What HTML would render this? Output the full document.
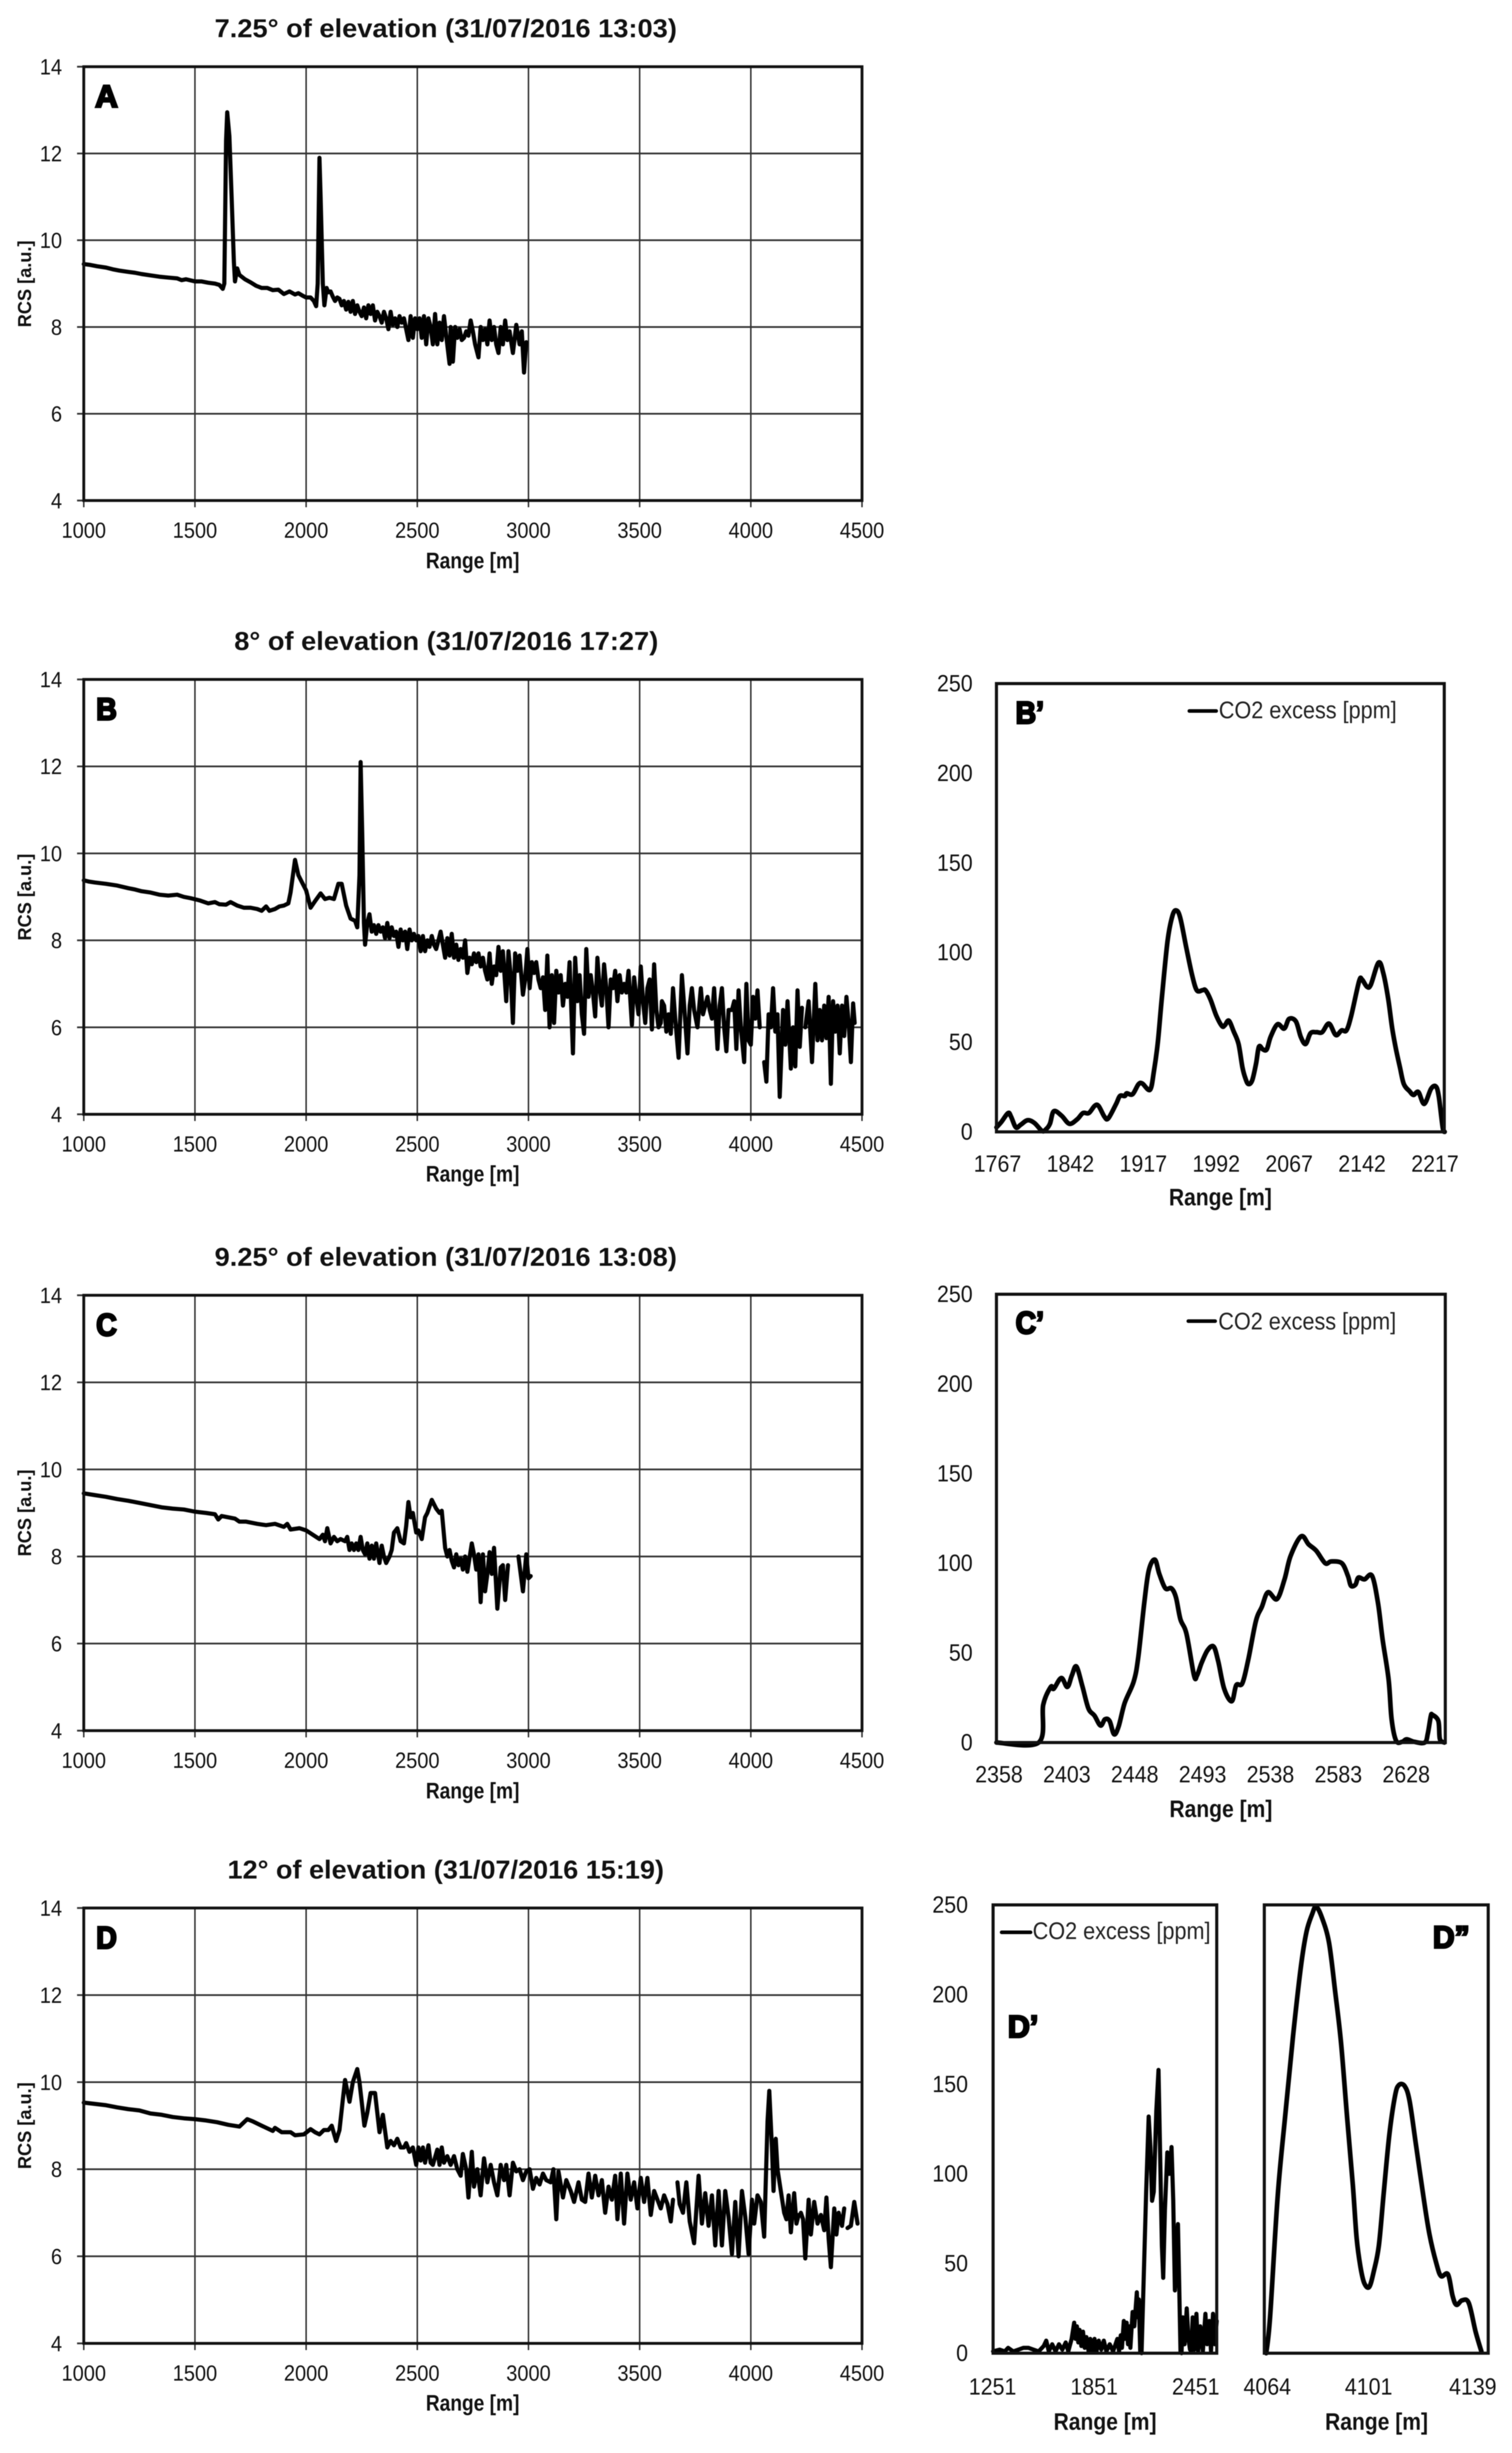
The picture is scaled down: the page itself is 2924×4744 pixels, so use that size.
<!DOCTYPE html>
<html lang="en">
<head>
<meta charset="utf-8">
<title>RCS and CO2 excess versus range</title>
<style>
html,body{margin:0;padding:0;background:#fff;}
svg{display:block;filter:blur(0.7px);}
text{font-family:"Liberation Sans",sans-serif;fill:#111;}
.title{font-size:50px;font-weight:bold;text-anchor:middle;}
.xtitle{font-size:44px;font-weight:bold;text-anchor:middle;}
.xtitle2{font-size:46px;font-weight:bold;text-anchor:middle;}
.ytitle{font-size:36px;font-weight:bold;text-anchor:middle;}
.letter{font-size:60px;font-weight:bold;fill:#000;stroke:#000;stroke-width:4px;}
.legend{font-size:46px;fill:#222;}
</style>
</head>
<body>
<svg id="figure" xmlns="http://www.w3.org/2000/svg" width="2924" height="4744" viewBox="0 0 2924 4744">
<rect x="0" y="0" width="2924" height="4744" fill="#fff"/>

<text class="title" x="862" y="72" textLength="894" lengthAdjust="spacingAndGlyphs">7.25° of elevation (31/07/2016 13:03)</text>
<text class="title" x="863" y="1257" textLength="820" lengthAdjust="spacingAndGlyphs">8° of elevation (31/07/2016 17:27)</text>
<text class="title" x="862" y="2448" textLength="894" lengthAdjust="spacingAndGlyphs">9.25° of elevation (31/07/2016 13:08)</text>
<text class="title" x="862" y="3633" textLength="844" lengthAdjust="spacingAndGlyphs">12° of elevation (31/07/2016 15:19)</text>

<text class="xtitle" x="914" y="1099" textLength="181" lengthAdjust="spacingAndGlyphs">Range [m]</text>
<text class="xtitle" x="914" y="2285" textLength="181" lengthAdjust="spacingAndGlyphs">Range [m]</text>
<text class="xtitle" x="914" y="3478" textLength="181" lengthAdjust="spacingAndGlyphs">Range [m]</text>
<text class="xtitle" x="914" y="4662" textLength="181" lengthAdjust="spacingAndGlyphs">Range [m]</text>

<text class="ytitle" transform="translate(60 549) rotate(-90)" textLength="168" lengthAdjust="spacingAndGlyphs">RCS [a.u.]</text>
<text class="ytitle" transform="translate(60 1735) rotate(-90)" textLength="168" lengthAdjust="spacingAndGlyphs">RCS [a.u.]</text>
<text class="ytitle" transform="translate(60 2926) rotate(-90)" textLength="168" lengthAdjust="spacingAndGlyphs">RCS [a.u.]</text>
<text class="ytitle" transform="translate(60 4111) rotate(-90)" textLength="168" lengthAdjust="spacingAndGlyphs">RCS [a.u.]</text>

<text class="xtitle2" x="2360" y="2331" textLength="199" lengthAdjust="spacingAndGlyphs">Range [m]</text>
<text class="xtitle2" x="2361" y="3514" textLength="199" lengthAdjust="spacingAndGlyphs">Range [m]</text>
<text class="xtitle2" x="2137" y="4699" textLength="199" lengthAdjust="spacingAndGlyphs">Range [m]</text>
<text class="xtitle2" x="2662" y="4699" textLength="199" lengthAdjust="spacingAndGlyphs">Range [m]</text>

<g id="plots"></g>

<text class="letter" x="184" y="207" textLength="44" lengthAdjust="spacingAndGlyphs">A</text>
<text class="letter" x="186" y="1392" textLength="40" lengthAdjust="spacingAndGlyphs">B</text>
<text class="letter" x="186" y="2583" textLength="40" lengthAdjust="spacingAndGlyphs">C</text>
<text class="letter" x="186" y="3768" textLength="40" lengthAdjust="spacingAndGlyphs">D</text>
<text class="letter" x="1964" y="1399" textLength="55" lengthAdjust="spacingAndGlyphs">B’</text>
<text class="letter" x="1964" y="2579" textLength="55" lengthAdjust="spacingAndGlyphs">C’</text>
<text class="letter" x="1949" y="3940" textLength="59" lengthAdjust="spacingAndGlyphs">D’</text>
<text class="letter" x="2771" y="3767" textLength="71" lengthAdjust="spacingAndGlyphs">D”</text>

<g>
<line x1="2300" y1="1375" x2="2352" y2="1375" stroke="#000" stroke-width="7" stroke-linecap="round"/>
<text class="legend" x="2357" y="1389" textLength="344" lengthAdjust="spacingAndGlyphs">CO2 excess [ppm]</text>
</g>
<g>
<line x1="2298" y1="2555" x2="2350" y2="2555" stroke="#000" stroke-width="7" stroke-linecap="round"/>
<text class="legend" x="2356" y="2571" textLength="344" lengthAdjust="spacingAndGlyphs">CO2 excess [ppm]</text>
</g>
<g>
<line x1="1937" y1="3737" x2="1993" y2="3737" stroke="#000" stroke-width="7" stroke-linecap="round"/>
<text class="legend" x="1997" y="3750" textLength="344" lengthAdjust="spacingAndGlyphs">CO2 excess [ppm]</text>
</g>
</svg>

<script>
const mainXTicks = [1000,1500,2000,2500,3000,3500,4000,4500];
const mainYTicks = [4,6,8,10,12,14];
const co2YTicks = [0,50,100,150,200,250];
const xTicksBPrime = [1767,1842,1917,1992,2067,2142,2217];
const xTicksCPrime = [2358,2403,2448,2493,2538,2583,2628];
const xTicksDPrime = [1251,1851,2451];
const xTicksDDouble = [4064,4101,4139];

const rangeA = [
1000,1030,1060,1100,1130,1160,1200,1230,1260,1300,
1340,1380,1420,1440,1460,1500,1530,1560,1590,1610,
1625,1632,1640,1645,1655,1665,1675,1680,1690,1700,
1725,1750,1775,1800,1825,1850,1875,1900,1925,1950,
1965,1985,2000,2020,2035,2045,2052,2060,2065,2075,
2082,2092,2100,2110,2120,2130,2140,2150,2160,2170,
2180,2190,2200,2210,2220,2230,2240,2250,2260,2270,
2280,2290,2300,2310,2320,2330,2340,2350,2360,2370,
2380,2390,2400,2410,2420,2430,2440,2450,2460,2470,
2480,2490,2500,2510,2520,2530,2540,2550,2560,2570,
2580,2590,2600,2610,2620,2630,2645,2650,2660,2670,
2680,2690,2700,2710,2720,2730,2740,2750,2760,2775,
2785,2795,2805,2815,2825,2835,2845,2855,2865,2875,
2885,2895,2905,2915,2930,2945,2960,2970,2980,2990];
const rcsA = [
9.45,9.43,9.4,9.37,9.33,9.3,9.27,9.25,9.22,9.19,
9.16,9.14,9.12,9.08,9.1,9.05,9.05,9.02,9.0,8.97,
8.88,9.0,12.3,12.95,12.4,11.0,9.5,9.05,9.35,9.2,
9.1,9.03,8.95,8.9,8.9,8.85,8.86,8.76,8.82,8.75,
8.78,8.72,8.68,8.68,8.6,8.48,9.0,11.9,11.0,9.0,
8.5,8.9,8.8,8.82,8.7,8.6,8.68,8.65,8.5,8.6,
8.4,8.58,8.35,8.6,8.3,8.5,8.35,8.25,8.45,8.2,
8.5,8.3,8.5,8.15,8.35,8.25,8.1,8.35,8.2,7.95,
8.35,8.05,8.2,8.0,8.25,8.1,8.2,7.95,7.7,8.25,
7.75,8.2,7.95,8.2,7.75,8.25,7.6,8.2,8.0,7.6,
8.3,7.6,8.1,7.7,8.25,7.8,7.15,8.0,7.2,8.0,
7.75,7.95,7.7,7.75,7.9,7.8,8.15,7.9,7.6,7.3,
8.0,7.7,7.95,7.6,8.15,7.7,8.0,7.6,7.4,8.0,
7.6,8.15,7.7,7.9,7.4,8.05,7.6,7.9,6.95,7.65];

const rangeB = [
1000,1025,1050,1100,1150,1200,1230,1260,1300,1340,
1380,1420,1450,1480,1520,1560,1590,1610,1640,1660,
1690,1720,1750,1780,1800,1820,1835,1860,1880,1900,
1920,1930,1950,1965,1985,2000,2020,2040,2065,2085,
2105,2125,2145,2160,2180,2200,2220,2230,2240,2245,
2252,2260,2265,2275,2285,2295,2305,2315,2325,2335,
2345,2355,2365,2375,2385,2395,2405,2415,2425,2435,
2445,2455,2465,2475,2485,2495,2505,2515,2525,2535,
2545,2555,2565,2575,2585,2595,2605,2615,2625,2635,
2645,2655,2665,2675,2685,2695,2705,2715,2725,2735,
2745,2755,2765,2775,2785,2795,2805,2815,2825,2835,
2845,2855,2865,2875,2885,2900,2910,2920,2930,2940,
2950,2960,2975,2985,2995,3005,3015,3025,3035,3045,
3055,3065,3075,3085,3095,3105,3115,3125,3135,3145,
3155,3165,3175,3185,3200,3210,3220,3230,3240,3250,
3260,3270,3280,3290,3300,3310,3320,3330,3340,3350,
3360,3370,3380,3390,3400,3410,3420,3430,3440,3450,
3465,3475,3485,3495,3505,3515,3525,3535,3545,3555,
3565,3575,3585,3595,3600,3610,3620,3630,3640,3650,
3660,3675,3690,3700,3715,3725,3735,3745,3760,3775,
3785,3795,3805,3815,3825,3835,3850,3860,3870,3880,
3890,3900,3915,3925,3935,3945,3955,3970,3980,3990,
4000,4010,4020,4030,4040,4050,4060,4070,4080,4090,
4100,4110,4120,4130,4145,4155,4165,4180,4190,4200,
4210,4220,4230,4238,4245,4260,4275,4290,4300,4310,
4320,4330,4340,4350,4360,4370,4380,4390,4400,4410,
4420,4430,4440,4450,4460,4467];
const rcsB = [
9.38,9.35,9.33,9.3,9.26,9.2,9.17,9.13,9.1,9.05,
9.03,9.05,9.0,8.97,8.92,8.85,8.88,8.83,8.82,8.88,
8.8,8.75,8.75,8.72,8.68,8.78,8.68,8.72,8.78,8.8,
8.85,9.1,9.85,9.5,9.3,9.15,8.75,8.9,9.08,8.95,
8.98,8.95,9.3,9.3,8.8,8.5,8.45,8.3,9.5,12.1,
10.5,8.4,7.9,8.4,8.6,8.2,8.35,8.15,8.35,8.2,
8.3,8.05,8.4,8.05,8.3,8.1,8.2,7.85,8.25,8.0,
8.2,7.8,8.25,8.0,8.15,8.0,8.1,7.75,8.1,7.75,
8.0,7.85,8.1,7.9,7.8,8.0,8.2,7.9,7.6,8.05,
7.65,8.15,7.6,7.9,7.55,7.8,7.6,8.0,7.25,7.6,
7.45,7.7,7.5,7.7,7.4,7.6,7.3,7.1,7.7,7.0,
7.4,7.2,7.85,7.3,7.75,6.6,7.75,7.2,6.1,7.7,
7.3,7.65,6.75,7.1,7.8,6.9,7.5,7.25,7.5,7.1,
6.9,7.15,6.4,7.65,6.0,7.2,6.1,7.3,6.8,7.2,
6.5,7.0,6.7,7.5,5.4,7.6,6.6,7.2,6.3,5.85,
7.8,6.7,7.2,6.8,6.25,7.6,6.9,6.5,7.45,6.9,
6.0,7.1,6.9,7.3,6.6,7.2,6.8,7.0,6.8,7.3,
6.05,7.15,6.7,6.3,7.4,6.6,6.1,6.9,7.1,5.95,
7.45,6.4,6.0,6.1,6.6,6.5,5.9,6.3,5.85,6.9,
6.2,5.3,7.2,6.5,5.4,6.5,6.9,6.4,6.0,6.9,
6.3,6.5,6.7,6.4,6.2,6.9,5.5,6.5,6.9,6.0,
5.45,6.4,6.4,6.6,5.5,6.85,6.0,5.2,7.0,5.7,
5.6,6.7,6.2,6.85,6.0,null,5.2,4.75,6.3,6.0,
6.9,5.9,6.3,4.4,6.4,5.6,6.6,5.05,6.0,5.1,
6.85,5.55,6.45,null,6.0,6.6,5.2,7.0,5.7,6.4,
5.7,6.5,5.75,6.7,4.7,6.6,5.9,6.5,5.4,6.5,
5.8,6.7,6.1,5.2,6.55,6.1];

const rangeC = [
1000,1050,1100,1150,1200,1250,1300,1350,1400,1450,
1500,1550,1590,1605,1620,1680,1700,1730,1780,1820,
1860,1900,1915,1930,1970,2000,2030,2060,2075,2085,
2095,2110,2125,2140,2155,2175,2185,2195,2205,2215,
2225,2235,2245,2255,2265,2275,2285,2295,2305,2315,
2330,2340,2350,2360,2375,2385,2395,2410,2425,2440,
2450,2460,2470,2480,2495,2505,2520,2535,2545,2565,
2585,2600,2610,2625,2635,2645,2655,2665,2675,2685,
2695,2705,2715,2725,2745,2755,2765,2775,2785,2795,
2805,2815,2825,2835,2845,2860,2875,2885,2895,2908,
2930,2955,2975,2990,3000,3010];
const rcsC = [
9.45,9.41,9.37,9.32,9.28,9.23,9.18,9.13,9.1,9.08,
9.03,9.0,8.97,8.85,8.93,8.87,8.8,8.8,8.75,8.72,
8.75,8.68,8.75,8.62,8.65,8.6,8.5,8.4,8.5,8.35,
8.65,8.3,8.45,8.35,8.4,8.35,8.45,8.15,8.3,8.15,
8.3,8.15,8.45,8.15,8.05,8.3,7.95,8.25,7.95,8.3,
7.85,8.25,8.0,7.85,8.0,8.15,8.55,8.65,8.35,8.3,
8.7,9.25,8.9,9.0,8.55,8.6,8.4,8.9,9.0,9.3,
9.1,9.0,9.05,8.2,8.0,8.15,7.9,7.75,8.05,7.8,
7.95,7.7,8.0,7.65,8.3,8.05,7.7,8.05,6.95,8.05,
7.2,7.6,8.1,7.6,8.2,6.8,7.75,7.8,7.0,7.8,
null,8.0,7.2,8.05,7.5,7.55];

const rangeD = [
1000,1100,1150,1200,1250,1300,1350,1400,1450,1500,
1550,1600,1650,1700,1735,1760,1800,1850,1860,1890,
1930,1950,1990,2020,2040,2060,2080,2100,2115,2135,
2150,2165,2175,2195,2210,2230,2240,2262,2275,2290,
2310,2330,2345,2365,2380,2395,2410,2425,2440,2450,
2465,2480,2495,2505,2515,2525,2535,2550,2560,2570,
2590,2600,2610,2620,2635,2650,2665,2680,2695,2705,
2720,2730,2745,2755,2770,2785,2800,2815,2830,2845,
2860,2875,2890,2900,2915,2930,2945,2960,2975,2990,
3005,3020,3035,3050,3065,3080,3100,3112,3125,3135,
3155,3170,3190,3205,3225,3240,3255,3270,3285,3300,
3315,3330,3345,3360,3375,3390,3400,3415,3430,3445,
3460,3475,3490,3505,3520,3535,3550,3565,3580,3595,
3610,3625,3640,3650,3660,3670,3680,3695,3710,3725,
3745,3765,3780,3795,3810,3825,3840,3855,3870,3885,
3900,3915,3930,3945,3960,3975,3990,4005,4015,4030,
4045,4060,4075,4083,4095,4102,4112,4120,4135,4150,
4160,4170,4180,4195,4205,4215,4220,4225,4235,4245,
4260,4270,4285,4300,4315,4330,4340,4350,4360,4375,
4385,4395,4410,4420,4428,4435,4450,4465,4480];
const rcsD = [
9.53,9.47,9.42,9.38,9.35,9.28,9.25,9.2,9.17,9.15,
9.12,9.08,9.02,8.98,9.15,9.1,9.0,8.88,8.95,8.85,
8.85,8.78,8.8,8.92,8.85,8.8,8.9,8.9,9.0,8.65,
8.9,9.6,10.05,9.55,10.0,10.3,10.0,9.0,9.3,9.75,
9.75,8.85,9.25,8.5,8.65,8.55,8.7,8.5,8.5,8.6,
8.4,8.5,8.1,8.5,8.2,8.5,8.15,8.55,8.15,8.1,
8.45,8.1,8.5,8.15,8.3,8.1,8.3,8.0,7.85,8.35,
8.0,7.35,8.4,7.6,8.0,7.4,8.25,7.7,8.1,7.7,
7.4,8.1,7.75,8.1,7.4,8.15,7.95,8.0,7.75,7.95,
8.0,7.55,7.8,7.65,7.9,7.75,7.7,8.0,6.85,7.95,
7.35,7.75,7.5,7.25,7.7,7.3,7.25,7.9,7.35,7.85,
7.4,7.75,7.0,7.6,7.3,7.85,6.85,7.9,6.75,7.9,
7.3,7.7,7.1,7.8,7.25,7.8,6.95,7.5,7.3,7.1,
7.4,7.2,6.8,7.3,null,7.7,7.2,7.0,7.7,6.8,
6.3,7.85,6.75,7.45,6.7,7.4,6.25,7.5,6.25,7.5,
6.9,6.05,7.25,6.0,7.5,6.9,6.05,7.3,6.75,7.4,
7.25,6.45,9.1,9.8,8.5,7.5,8.7,8.0,7.5,7.0,
6.85,7.4,6.55,7.45,6.75,6.95,null,7.0,6.85,5.95,
7.3,6.5,7.25,6.75,6.95,6.6,7.35,6.4,5.75,7.1,
6.5,7.0,6.7,7.1,null,6.65,6.7,7.25,6.75];

const rangeBPrime = [
1767,1772,1779,1782,1787,1792,1799,1806,1814,1818,
1822,1826,1834,1842,1850,1856,1862,1868,1872,1878,
1882,1890,1894,1899,1901,1907,1913,1917,1925,1929,
1933,1937,1943,1948,1952,1956,1962,1968,1973,1979,
1982,1987,1993,1999,2002,2006,2011,2016,2020,2023,
2026,2030,2034,2037,2041,2045,2049,2056,2063,2068,
2075,2080,2085,2090,2096,2102,2109,2116,2122,2127,
2132,2140,2143,2148,2152,2160,2165,2170,2174,2178,
2182,2186,2192,2196,2201,2207,2214,2219,2222,2226,2228];
const co2BPrime = [
2.5,5.5,10.5,8.5,2.5,4,6.5,5,0.5,1.5,
4.5,11.5,9,4.5,7,10.5,10.5,14.5,14.5,8.5,
7.5,15.5,20,20,21.5,21,26.5,27,23.5,34,
50,74,106.5,120.5,123.5,119.5,103.5,88,79,79,
79,74,65,59,59.5,62,56,49,36,30,
26.7,28.7,38,47.5,46,46,53,60,57.6,63,
61.6,53,49,55,55.6,55.6,60.4,54,56.6,56.6,
65,84,85,81,82,94.4,88.3,74,58,46,
36,26.7,22.6,20.6,22.2,15.6,24,25.3,19.6,2.4,0];

const rangeCPrime = [
2357,2385,2388,2393,2395,2400,2404,2407,2410,2414,
2418,2422,2426,2429,2432,2435,2438,2442,2448,2451,
2455,2458,2462,2465,2469,2473,2476,2479,2483,2488,
2490,2493,2497,2501,2504,2508,2513,2516,2520,2524,
2529,2533,2537,2543,2548,2552,2559,2564,2569,2575,
2579,2586,2590,2592,2595,2597,2601,2606,2610,2613,
2617,2619,2622,2626,2629,2634,2641,2643,2645,2646,
2650,2651,2654];
const co2CPrime = [
0,0,21,31,30,36,31,37.4,42.4,31.3,
19,15,9.5,13,12,4.6,9,22,34,47.5,
77.7,96,102,94,86,86,81,68.7,60.6,37.4,
37.4,44.4,51.5,53.5,45.4,30,23,32,33,46.4,
67.7,75.7,83.8,80,91,104,115,110.5,107,100,
101,100,93,87.5,88,92,91,93,77.7,57.6,
35.3,13,1,0.4,1.8,0.4,0,5,14.7,15.5,
12,2,0];

const rangeDPrime = [
1251,1290,1320,1340,1370,1400,1430,1460,1490,1520,
1550,1565,1580,1600,1620,1640,1660,1680,1695,1715,
1730,1738,1746,1754,1762,1772,1782,1792,1802,1815,
1825,1838,1850,1862,1875,1890,1905,1920,1940,1960,
1985,1995,2005,2012,2023,2030,2040,2048,2056,2062,
2075,2085,2100,2106,2112,2120,2128,2140,2155,2170,
2180,2190,2200,2215,2228,2238,2248,2256,2266,2280,
2292,2305,2315,2325,2335,2343,2350,2358,2364,2372,
2382,2395,2405,2414,2422,2430,2440,2452,2462,2475,
2490,2505,2515,2528,2538,2550,2560,2572];
const co2DPrime = [
1,2,1,3,1,2,3,3,2,1,
4,7,1,5,1,5,2,6,1,8,
17,8,15,6,13,4,12,3,9,1,
8,1,8,1,7,2,7,1,5,1,
8,1,10,3,18,8,17,5,15,3,
23,15,34,20,30,1,0,40,90,132,
115,85,90,135,158,110,60,42,80,112,
100,115,85,35,50,72,40,1,0,20,
5,25,8,2,1,20,2,22,1,15,
1,22,5,18,1,22,5,18];

const rangeDDouble = [
4064,4065.4,4068.2,4071,4073.8,4076.6,4078.7,4080.8,4082.2,4084.3,
4086.9,4089.2,4091.3,4093.5,4095.6,4097,4098.4,4099.8,4101.6,4103.3,
4105.1,4106.8,4108.9,4111,4112.4,4114.5,4116.3,4118.7,4121.5,4123.6,
4126.1,4127.8,4130.3,4132,4133.4,4135.5,4137.9,4140.4,4142.5];
const co2DDouble = [
0,20,88,133.6,177,215,235,245,249,243,
229,201,173,131.6,93.8,64,48,39,37,46,
60,88,121.6,143.5,149.5,149,140.7,115.6,85.8,66,
50,43,44,32,27,29.5,28,12,1];

const SVGNS = 'http://www.w3.org/2000/svg';
const plotsRoot = document.getElementById('plots');

function makeLinearAxis(d0, d1, p0, p1) {
  return function (v) { return p0 + (v - d0) * (p1 - p0) / (d1 - d0); };
}

function svgEl(tag, parent) {
  const el = document.createElementNS(SVGNS, tag);
  parent.appendChild(el);
  return el;
}

function straightPath(pts) {
  return pts.map(function (p, i) {
    return (i ? 'L' : 'M') + p[0].toFixed(1) + ' ' + p[1].toFixed(1);
  }).join('');
}

function smoothPath(pts) {
  let d = 'M' + pts[0][0].toFixed(1) + ' ' + pts[0][1].toFixed(1);
  for (let i = 0; i < pts.length - 1; i++) {
    const p0 = pts[Math.max(i - 1, 0)];
    const p1 = pts[i];
    const p2 = pts[i + 1];
    const p3 = pts[Math.min(i + 2, pts.length - 1)];
    const c1x = p1[0] + (p2[0] - p0[0]) / 6;
    const c1y = p1[1] + (p2[1] - p0[1]) / 6;
    const c2x = p2[0] - (p3[0] - p1[0]) / 6;
    const c2y = p2[1] - (p3[1] - p1[1]) / 6;
    d += 'C' + c1x.toFixed(1) + ' ' + c1y.toFixed(1) + ' ' + c2x.toFixed(1) + ' ' + c2y.toFixed(1) + ' ' + p2[0].toFixed(1) + ' ' + p2[1].toFixed(1);
  }
  return d;
}

function drawPanel(name, box, xDomain, yDomain, xTicks, yTicks, xs, ys, style) {
  const xAxis = makeLinearAxis(xDomain[0], xDomain[1], box.left, box.right);
  const yAxis = makeLinearAxis(yDomain[0], yDomain[1], box.bottom, box.top);

  const group = svgEl('g', plotsRoot);
  
  

  if (style.grid) {
    xTicks.forEach(function (t) {
      const g = svgEl('line', group);
      
      
      g.setAttribute('x1', xAxis(t));
      g.setAttribute('x2', xAxis(t));
      g.setAttribute('y1', box.top);
      g.setAttribute('y2', box.bottom + 13);
      g.setAttribute('stroke', '#2a2a2a');
      g.setAttribute('stroke-width', '2.8');
    });
    yTicks.forEach(function (t) {
      const g = svgEl('line', group);
      
      
      g.setAttribute('x1', box.left - 13);
      g.setAttribute('x2', box.right);
      g.setAttribute('y1', yAxis(t));
      g.setAttribute('y2', yAxis(t));
      g.setAttribute('stroke', '#333');
      g.setAttribute('stroke-width', '3.4');
    });
  }

  const segments = [];
  let current = [];
  const n = Math.min(xs.length, ys.length);
  for (let i = 0; i < n; i++) {
    if (ys[i] === null) {
      if (current.length) segments.push(current);
      current = [];
      continue;
    }
    current.push([xAxis(xs[i]), yAxis(ys[i])]);
  }
  if (current.length) segments.push(current);
  const d = segments.map(style.smooth ? smoothPath : straightPath).join('');

  const series = svgEl('path', group);
  
  
  series.setAttribute('d', d);
  series.setAttribute('fill', 'none');
  series.setAttribute('stroke', '#000');
  series.setAttribute('stroke-width', style.lineWidth);
  series.setAttribute('stroke-linejoin', 'round');
  series.setAttribute('stroke-linecap', 'round');

  const frame = svgEl('rect', group);
  
  
  frame.setAttribute('x', box.left);
  frame.setAttribute('y', box.top);
  frame.setAttribute('width', box.right - box.left);
  frame.setAttribute('height', box.bottom - box.top);
  frame.setAttribute('fill', 'none');
  frame.setAttribute('stroke', '#111');
  frame.setAttribute('stroke-width', style.frameWidth);

  xTicks.forEach(function (t) {
    const label = svgEl('text', group);
    
    
    label.setAttribute('x', xAxis(t) + style.xLabelShift);
    label.setAttribute('y', box.bottom + style.xLabelDrop);
    label.setAttribute('text-anchor', 'middle');
    label.setAttribute('font-size', style.fontSize);
    label.setAttribute('textLength', String(t).length * style.digitWidth);
    label.setAttribute('lengthAdjust', 'spacingAndGlyphs');
    label.textContent = t;
  });
  yTicks.forEach(function (t) {
    const label = svgEl('text', group);
    
    
    label.setAttribute('x', style.yLabelRight - String(t).length * style.digitWidth / 2);
    label.setAttribute('y', yAxis(t) + 15);
    label.setAttribute('text-anchor', 'middle');
    label.setAttribute('font-size', style.fontSize);
    label.setAttribute('textLength', String(t).length * style.digitWidth);
    label.setAttribute('lengthAdjust', 'spacingAndGlyphs');
    label.textContent = t;
  });
}

const mainStyle = {grid:true,smooth:false,lineWidth:8,frameWidth:5.5,fontSize:43,digitWidth:21.5,xLabelDrop:72,xLabelShift:0,yLabelRight:120};
const co2Style = {grid:false,smooth:true,lineWidth:9,frameWidth:6,fontSize:45,digitWidth:23,xLabelDrop:77,xLabelShift:2,yLabelRight:1881};

drawPanel('a', {left:162,right:1667,top:129,bottom:968}, [1000,4500], [4,14], mainXTicks, mainYTicks, rangeA, rcsA, mainStyle);
drawPanel('b', {left:162,right:1667,top:1314,bottom:2155}, [1000,4500], [4,14], mainXTicks, mainYTicks, rangeB, rcsB, mainStyle);
drawPanel('c', {left:162,right:1667,top:2505,bottom:3347}, [1000,4500], [4,14], mainXTicks, mainYTicks, rangeC, rcsC, mainStyle);
drawPanel('d', {left:162,right:1667,top:3690,bottom:4532}, [1000,4500], [4,14], mainXTicks, mainYTicks, rangeD, rcsD, mainStyle);

drawPanel('b-prime', {left:1927,right:2793,top:1322,bottom:2189}, [1767,2227.6], [0,250], xTicksBPrime, co2YTicks, rangeBPrime, co2BPrime, co2Style);
drawPanel('c-prime', {left:1927,right:2795,top:2503,bottom:3370}, [2357,2654.6], [0,250], xTicksCPrime, co2YTicks, rangeCPrime, co2CPrime, co2Style);

const dPrimeStyle = {grid:false,smooth:false,lineWidth:8,frameWidth:6,fontSize:45,digitWidth:23,xLabelDrop:80,xLabelShift:-1,yLabelRight:1872};
const dDoubleStyle = {grid:false,smooth:true,lineWidth:9,frameWidth:6,fontSize:45,digitWidth:23,xLabelDrop:80,xLabelShift:2,yLabelRight:0};

drawPanel('d-prime', {left:1920.5,right:2353,top:3684,bottom:4551}, [1251,2572], [0,250], xTicksDPrime, co2YTicks, rangeDPrime, co2DPrime, dPrimeStyle);
drawPanel('d-double-prime', {left:2445,right:2878,top:3684,bottom:4551}, [4063.3,4145], [0,250], xTicksDDouble, [], rangeDDouble, co2DDouble, dDoubleStyle);
</script>
</body>
</html>
